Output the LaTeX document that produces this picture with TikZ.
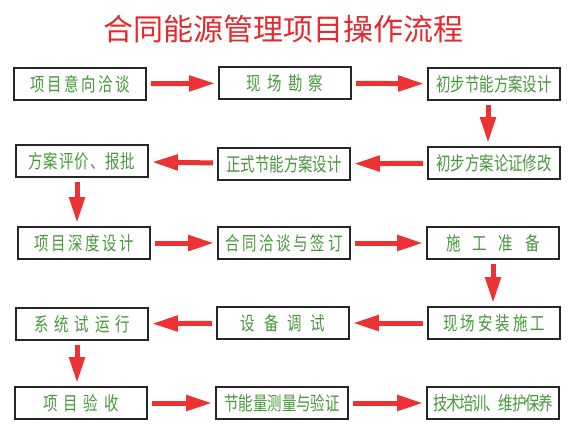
\documentclass[tikz,border=0pt]{standalone}
\usepackage{fontspec}
\newfontfamily\cjktitle{Noto Sans CJK SC}
\newfontfamily\cjkbox[FakeStretch=0.76]{Noto Sans CJK SC}
\usetikzlibrary{arrows.meta}
\definecolor{TitleRed}{RGB}{232,40,44}
\definecolor{ArrowRed}{RGB}{236,50,50}
\definecolor{TextGreen}{RGB}{72,152,60}

\begin{document}
\begin{tikzpicture}[x=1pt, y=-1pt,
    box/.style={draw=black!85, line width=1.8pt, minimum width=132pt, minimum height=32pt, inner sep=0pt, text=TextGreen, font=\cjkbox\fontsize{19}{22}\selectfont\addfontfeatures{LetterSpace=#1}},
    box/.default=0,
    flow/.style={draw=ArrowRed, line width=5pt, -{Triangle[length=26pt,width=15pt]}, shorten <=4pt, shorten >=3pt}]
    \useasboundingbox (0,0) rectangle (580,436);
    \node[font=\cjktitle\fontsize{30}{34}\selectfont, text=TitleRed] (title) at (283,29) {合同能源管理项目操作流程};
    % row 1
    \node[box=13] (talk) at (80,84) {项目意向洽谈};
    \node[box=33] (survey) at (285,83) {现场勘察};
    \node[box] (prelim) at (494,84) {初步节能方案设计};
    % row 2
    \node[box=5] (review) at (82,161) {方案评价、报批};
    \node[box] (formal) at (284,164) {正式节能方案设计};
    \node[box] (revise) at (494,163) {初步方案论证修改};
    % row 3
    \node[box=13] (design) at (84,243) {项目深度设计};
    \node[box=14] (contract) at (284,243) {合同洽谈与签订};
    \node[box=63] (prepare) at (493,243) {施工准备};
    % row 4
    \node[box=31] (trial) at (82,324) {系统试运行};
    \node[box=47] (debug) at (283,323) {设备调试};
    \node[box=16] (install) at (494,323) {现场安装施工};
    % row 5
    \node[box=31] (accept) at (81,403) {项目验收};
    \node[box] (measure) at (282,403) {节能量测量与验证};
    \node[box=-7] (train) at (493,403) {技术培训、维护保养};

    \draw[flow] (talk) -- (survey);
    \draw[flow] (survey) -- (prelim);
    \draw[flow] ([xshift=-6pt]prelim.south) -- ([xshift=-6pt]prelim.south |- revise.north);
    \draw[flow] (revise) -- (formal);
    \draw[flow] (formal) -- (review);
    \draw[flow] ([xshift=-5pt]review.south) -- ([xshift=-5pt]review.south |- design.north);
    \draw[flow] (design) -- (contract);
    \draw[flow] (contract) -- (prepare);
    \draw[flow] (prepare.south) -- (prepare.south |- install.north);
    \draw[flow] (install) -- (debug);
    \draw[flow] (debug) -- (trial);
    \draw[flow] ([xshift=-5pt]trial.south) -- ([xshift=-5pt]trial.south |- accept.north);
    \draw[flow] (accept) -- (measure);
    \draw[flow] (measure) -- (train);
\end{tikzpicture}
\end{document}
